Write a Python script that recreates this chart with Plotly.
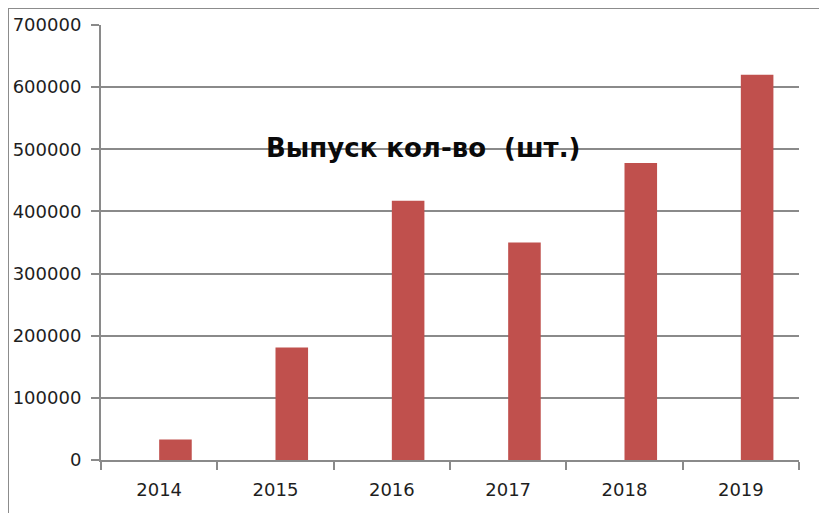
import plotly.graph_objects as go

years = ["2014", "2015", "2016", "2017", "2018", "2019"]
output_qty = [33000, 181000, 417000, 350000, 478000, 620000]
y_ticks = [0, 100000, 200000, 300000, 400000, 500000, 600000, 700000]
title_text = "Выпуск кол-во  (шт.)"

# The page body has an 8px margin; keep the figure inside the window.
OFF = 8
W, H = 827 - 2 * OFF, 521 - 2 * OFF

def px(x):  # screen x -> paper
    return (x - OFF) / W

def py(y):  # screen y -> paper
    return 1 - (y - OFF) / H

fig = go.Figure()
fig.add_trace(go.Bar(
    x=years, y=output_qty,
    marker=dict(color="#C0504D", line=dict(width=0)),
    width=0.28, offset=0.0,
))

font = dict(family="DejaVu Sans, sans-serif", size=18, color="#1e1e1e")
axis_col = "#8a8a8a"

fig.update_layout(
    template="none",
    width=W, height=H,
    margin=dict(l=0, r=0, t=0, b=0, autoexpand=False),
    paper_bgcolor="white", plot_bgcolor="white",
    showlegend=False,
    font=font,
    xaxis=dict(
        domain=[px(101), px(799)],
        type="category",
        tickson="boundaries",
        ticks="outside", ticklen=8, tickcolor=axis_col, tickwidth=2,
        showline=True, linecolor=axis_col, linewidth=2,
        showgrid=False, automargin=False,
        tickfont=font,
        ticklabelstandoff=12,
    ),
    yaxis=dict(
        domain=[py(460), py(25)],
        range=[0, 700000],
        tickvals=y_ticks,
        ticktext=[str(v) for v in y_ticks],
        ticks="outside", ticklen=8, tickcolor=axis_col, tickwidth=2,
        showline=True, linecolor=axis_col, linewidth=2,
        showgrid=True, gridcolor=axis_col, gridwidth=2,
        zeroline=False, automargin=False,
        tickfont=font,
        ticklabelstandoff=6,
    ),
)

shapes = []
# chart border (top and left edges of the embedded chart)
shapes.append(dict(type="line", xref="paper", yref="paper",
                   x0=0, x1=1, y0=1, y1=1,
                   line=dict(color="#8c8c8c", width=2)))
shapes.append(dict(type="line", xref="paper", yref="paper",
                   x0=0, x1=0, y0=1, y1=0,
                   line=dict(color="#8c8c8c", width=2)))
fig.update_layout(shapes=shapes)

fig.add_annotation(
    text=title_text, xref="paper", yref="paper",
    x=px(423), y=py(148), xanchor="center", yanchor="middle",
    showarrow=False,
    font=dict(family="DejaVu Sans, sans-serif", size=26, color="#0a0a0a", weight="bold"),
)

fig.write_html("out.html")
